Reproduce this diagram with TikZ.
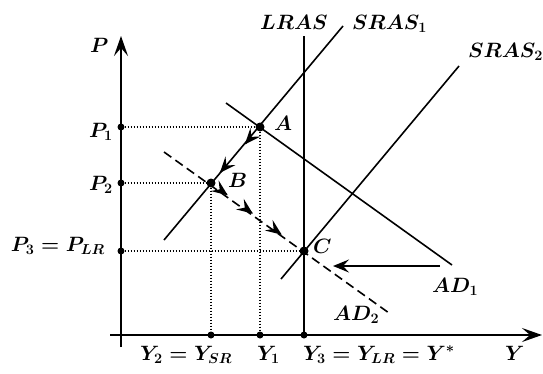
\documentclass[tikz,border=0pt]{standalone}
\usetikzlibrary{arrows.meta,calc}
\begin{document}
\begin{tikzpicture}[x=1pt,y=-1pt,
  axis/.style={line width=2pt,-{Stealth[length=20pt,width=14pt,inset=8pt]}},
  curve/.style={line width=1.6pt},
  guide/.style={line width=1.1pt,dash pattern=on 1.3pt off 1.7pt},
  lab/.style={font=\fontsize{21}{25}\selectfont\boldmath, inner sep=0pt},
  dot/.style={circle,fill,inner sep=0pt,minimum size=7pt},
  bigdot/.style={circle,fill,inner sep=0pt,minimum size=9pt},
  mvtip/.style={line width=1.5pt,-{Stealth[length=16pt,width=13pt,inset=6pt]}}
]
\useasboundingbox (0,0) rectangle (543,373);
% axes
\coordinate (ybot) at (121,347);
\coordinate (ytop) at (121,36);
\coordinate (xl) at (110,335);
\coordinate (xr) at (542,335);
\draw[axis] (ybot) -- (ytop);
\draw[axis] (xl) -- (xr);
% equilibrium points
\node[bigdot] (A) at (260,127) {};
\node[bigdot] (B) at (211,183) {};
\node[bigdot] (C) at (304,251) {};
% axis dots
\node[dot] (P1) at (121,127) {};
\node[dot] (P2) at (121,183) {};
\node[dot] (P3) at (121,251) {};
\node[dot] (Y2) at (211,335) {};
\node[dot] (Y1) at (260,335) {};
\node[dot] (Y3) at (304,335) {};
% guides
\draw[guide] (P1) -- (A) -- (Y1);
\draw[guide] (P2) -- (B) -- (Y2);
\draw[guide] (P3) -- (C);
% curves
\coordinate (lrasT) at (304,36);
\draw[curve] (lrasT) -- (Y3.center);
\coordinate (s1a) at (343,26);
\coordinate (s1b) at (164,240);
\draw[curve] (s1a) -- (s1b);
\coordinate (s2a) at (459,66);
\coordinate (s2b) at (281,279);
\draw[curve] (s2a) -- (s2b);
\coordinate (d1a) at (226,103);
\coordinate (d1b) at (452,265);
\draw[curve] (d1a) -- (d1b);
\coordinate (d2a) at (164,152);
\coordinate (d2b) at (389,313);
\draw[curve,dash pattern=on 9pt off 5pt] (d2a) -- (d2b);
% movement arrows
\draw[mvtip] ($(A.center)!0.30!(B.center)$) -- ($(A.center)!0.31!(B.center)$);
\draw[mvtip] ($(A.center)!0.81!(B.center)$) -- ($(A.center)!0.82!(B.center)$);
\draw[mvtip] ($(B.center)!0.17!(C.center)$) -- ($(B.center)!0.18!(C.center)$);
\draw[mvtip] ($(B.center)!0.44!(C.center)$) -- ($(B.center)!0.45!(C.center)$);
\draw[mvtip] ($(B.center)!0.75!(C.center)$) -- ($(B.center)!0.76!(C.center)$);
\coordinate (h1) at (440,266);
\coordinate (h2) at (333,266);
\draw[line width=1.4pt,mvtip] (h1) -- (h2);
% labels
\node[lab,anchor=base west] (lP) at (90,52) {$P$};
\node[lab,anchor=base east] (lP1) at (113,137) {$P_1$};
\node[lab,anchor=base east] (lP2) at (113,190) {$P_2$};
\node[lab,anchor=base east] (lP3) at (105,251) {$P_3 = P_{LR}$};
\node[lab,anchor=base west] (lY2) at (140,360) {$Y_2 = Y_{SR}$};
\node[lab,anchor=base west] (lY1) at (257,360) {$Y_1$};
\node[lab,anchor=base west] (lY3) at (303,360) {$Y_3 = Y_{LR} = Y^{*}$};
\node[lab,anchor=base west] (lY) at (505,360) {$Y$};
\node[lab,anchor=base west] (lA) at (274,130) {$A$};
\node[lab,anchor=base west] (lB) at (228,187) {$B$};
\node[lab,anchor=base west] (lC) at (313,253) {$C$};
\node[lab,anchor=base west] (lAD1) at (432,292) {$AD_1$};
\node[lab,anchor=base west] (lAD2) at (333,320) {$AD_2$};
\node[lab,anchor=base west] (lLRAS) at (260,29) {$LRAS$};
\node[lab,anchor=base west] (lS1) at (352,29) {$SRAS_1$};
\node[lab,anchor=base west] (lS2) at (468,57) {$SRAS_2$};
\end{tikzpicture}
\end{document}
